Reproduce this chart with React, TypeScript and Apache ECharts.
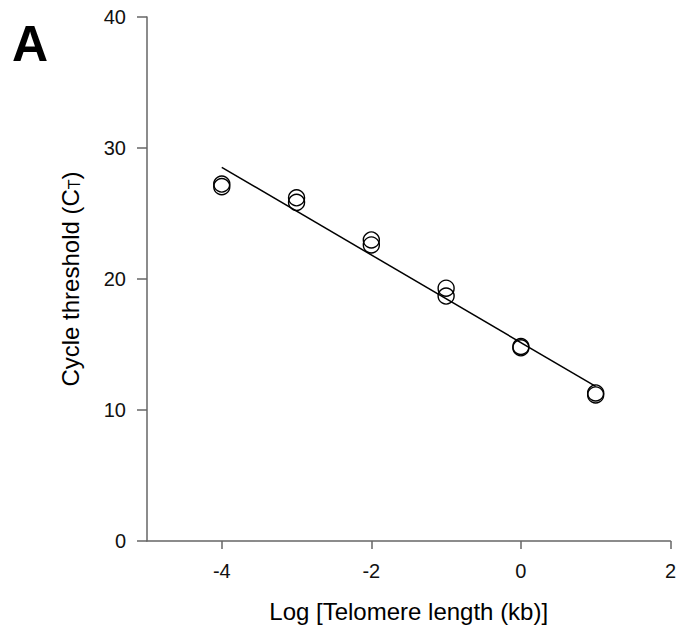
import React, { useEffect, useRef } from "react";
import * as echarts from "echarts";

// Log [Telomere length (kb)] levels of the standard curve
const xLevels = [-4, -3, -2, -1, 0, 1];
// Cycle threshold replicates
const ctReplicate1 = [27.25, 26.2, 22.98, 19.3, 14.85, 11.3];
const ctReplicate2 = [27.05, 25.85, 22.6, 18.7, 14.75, 11.15];
// Axis ticks
const xTickValues = [-4, -2, 0, 2];
const yTickValues = [0, 10, 20, 30, 40];

const FONT = "'Liberation Sans', Arial, sans-serif";
const AXIS_COLOR = "#666";

export default function App() {
  const ref = useRef<HTMLDivElement>(null);

  useEffect(() => {
    if (!ref.current) return;
    const chart = echarts.init(ref.current, undefined, { renderer: "svg" });

    const points: [number, number][] = [];
    xLevels.forEach((x, i) => {
      points.push([x, ctReplicate1[i]]);
      points.push([x, ctReplicate2[i]]);
    });

    // least-squares fit through the points
    const n = points.length;
    const mx = points.reduce((s, p) => s + p[0], 0) / n;
    const my = points.reduce((s, p) => s + p[1], 0) / n;
    let sxy = 0;
    let sxx = 0;
    points.forEach((p) => {
      sxy += (p[0] - mx) * (p[1] - my);
      sxx += (p[0] - mx) * (p[0] - mx);
    });
    const slope = sxy / sxx;
    const intercept = my - slope * mx;
    const xFirst = xLevels[0];
    const xLast = xLevels[xLevels.length - 1];
    const fitLine = [
      [xFirst, intercept + slope * xFirst],
      [xLast, intercept + slope * xLast],
    ];

    chart.setOption({
      animation: false,
      backgroundColor: "#fff",
      grid: { left: 147, top: 17, right: 7, bottom: 93, containLabel: false },
      xAxis: {
        type: "value",
        min: -5,
        max: 2,
        splitLine: { show: false },
        axisLine: { show: true, onZero: false, lineStyle: { color: AXIS_COLOR, width: 1.5 } },
        axisTick: {
          show: true,
          length: 8,
          customValues: xTickValues,
          lineStyle: { color: AXIS_COLOR, width: 1.5 },
        },
        axisLabel: {
          customValues: xTickValues,
          fontSize: 20,
          fontFamily: FONT,
          color: "#111",
          margin: 20,
        },
        name: "Log [Telomere length (kb)]",
        nameLocation: "middle",
        nameGap: 58,
        nameTextStyle: { fontSize: 24, fontFamily: FONT, color: "#000" },
      },
      yAxis: {
        type: "value",
        min: 0,
        max: 40,
        interval: 10,
        splitLine: { show: false },
        axisLine: { show: true, onZero: false, lineStyle: { color: AXIS_COLOR, width: 1.5 } },
        axisTick: {
          show: true,
          length: 10,
          customValues: yTickValues,
          lineStyle: { color: AXIS_COLOR, width: 1.5 },
        },
        axisLabel: {
          fontSize: 20,
          fontFamily: FONT,
          color: "#111",
          margin: 21,
        },
        name: "{a|Cycle threshold (C}{b|T}{a|)}",
        nameLocation: "middle",
        nameGap: 65,
        nameTextStyle: {
          color: "#000",
          rich: {
            a: { fontSize: 24, fontFamily: FONT, color: "#000", verticalAlign: "bottom" },
            b: { fontSize: 16, fontFamily: FONT, color: "#000", verticalAlign: "bottom" },
          },
        },
      },
      graphic: [
        {
          type: "text",
          left: 12,
          top: 19,
          style: {
            text: "A",
            fontSize: 50,
            fontWeight: "bold",
            fontFamily: FONT,
            fill: "#000",
          },
        },
      ],
      series: [
        {
          type: "line",
          data: fitLine,
          showSymbol: false,
          symbol: "none",
          lineStyle: { color: "#000", width: 1.5 },
          z: 2,
          silent: true,
        },
        {
          type: "scatter",
          data: points,
          symbol: "circle",
          symbolSize: 16,
          itemStyle: {
            color: "rgba(0,0,0,0)",
            borderColor: "#000",
            borderWidth: 1.4,
            opacity: 1,
          },
          z: 3,
        },
      ],
    });

    return () => chart.dispose();
  }, []);

  return (
    <div
      ref={ref}
      style={{ position: "fixed", left: 0, top: 0, width: 679, height: 634, background: "#fff" }}
    />
  );
}
